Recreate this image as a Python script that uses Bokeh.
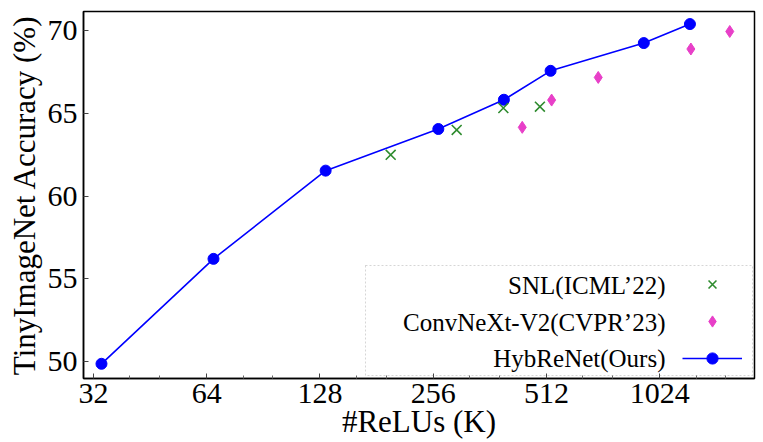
from bokeh.plotting import figure
from bokeh.models import FixedTicker, Range1d, Label, BoxAnnotation, Legend, LegendItem
from bokeh.core.properties import value
from bokeh.embed import file_html
from bokeh.resources import INLINE

# ---- data ----
hyb_x = [33.6, 66.7, 132.5, 264.1, 394.5, 525, 929, 1232]
hyb_y = [49.86, 56.21, 61.55, 64.07, 65.84, 67.59, 69.27, 70.42]
snl_x = [197.3, 295.5, 393.2, 491.8]
snl_y = [62.51, 64.01, 65.34, 65.42]
cnx_x = [441.4, 528.4, 702.8, 1239, 1572]
cnx_y = [64.17, 65.82, 67.19, 68.91, 69.97]

x_ticks = [32, 64, 128, 256, 512, 1024]
x_tick_labels = ["32", "64", "128", "256", "512", "1024"]
x_minor = [40, 48, 80, 96, 160, 192, 320, 384, 640, 768, 1280, 1536]
y_ticks = [50, 55, 60, 65, 70]
y_tick_labels = ["50", "55", "60", "65", "70"]
series_names = ["SNL(ICML’22)", "ConvNeXt-V2(CVPR’23)", "HybReNet(Ours)"]
x_title = "#ReLUs (K)"
y_title = "TinyImageNet Accuracy (%)"

FONT = "Liberation Serif, serif"
BLUE = "#0000ff"
GREEN = "#2e8b2e"
PINK = "#e83fc8"

p = figure(frame_width=671, frame_height=367, x_axis_type="log",
           x_range=Range1d(30.1, 1829), y_range=Range1d(48.97, 71.18),
           output_backend="svg", toolbar_location=None,
           min_border_left=83, min_border_right=9, min_border_top=11, min_border_bottom=64)

p.grid.visible = False
p.outline_line_color = "black"
p.outline_line_width = 1.5
p.background_fill_color = "white"
p.border_fill_color = "white"

for ax in (p.xaxis[0], p.yaxis[0]):
    ax.axis_line_color = "black"
    ax.axis_line_width = 1.5
    ax.major_tick_in = 5
    ax.major_tick_out = 0
    ax.minor_tick_in = 3
    ax.minor_tick_out = 0
    ax.major_tick_line_color = "#444444"
    ax.minor_tick_line_color = "#666666"
    ax.major_label_text_font = FONT
    ax.major_label_text_font_size = "30px"
    ax.major_label_text_color = "black"
    ax.axis_label_text_font = FONT
    ax.axis_label_text_font_size = "31px"
    ax.axis_label_text_font_style = "normal"
    ax.axis_label_text_color = "black"

p.xaxis.ticker = FixedTicker(ticks=x_ticks, minor_ticks=x_minor)
p.xaxis.major_label_overrides = dict(zip(x_ticks, x_tick_labels))
p.xaxis.axis_label = x_title
p.xaxis.major_label_standoff = 5
p.xaxis.axis_label_standoff = -2

p.yaxis.ticker = FixedTicker(ticks=y_ticks)
p.yaxis.major_label_overrides = dict(zip(y_ticks, y_tick_labels))
p.yaxis.minor_tick_line_color = None
p.yaxis.axis_label = y_title
p.yaxis.major_label_standoff = 6
p.yaxis.axis_label_standoff = 3

r_hyb_line = p.line(hyb_x, hyb_y, line_color=BLUE, line_width=1.6)
r_hyb = p.scatter(hyb_x, hyb_y, marker="circle", size=11, fill_color=BLUE, line_color=BLUE)
r_snl = p.scatter(snl_x, snl_y, marker="x", size=14, line_color=GREEN, line_width=1.6)
r_cnx = p.scatter(cnx_x, cnx_y, marker="diamond", size=12, fill_color=PINK, line_color=PINK)

box = BoxAnnotation(left=282, right=669, top=113, bottom=3,
                    left_units="screen", right_units="screen",
                    top_units="screen", bottom_units="screen",
                    fill_color=None, fill_alpha=0,
                    line_color="#777777", line_width=1, line_dash="2 2")
p.add_layout(box)

legend = Legend(items=[
    LegendItem(label=value(" "), renderers=[r_snl]),
    LegendItem(label=value(" "), renderers=[r_cnx]),
    LegendItem(label=value(" "), renderers=[r_hyb_line, r_hyb]),
], location=(599, 6), orientation="vertical",
    glyph_width=60, glyph_height=28, label_height=28, label_width=0,
    label_standoff=0, label_text_font_size="1px", spacing=9,
    padding=0, margin=0, border_line_color=None, background_fill_alpha=0)
p.add_layout(legend)

row_y = [93, 56, 20]
for name, yy in zip(series_names, row_y):
    p.add_layout(Label(x=582, y=yy, x_units="screen", y_units="screen", text=name,
                       text_align="right", text_baseline="middle",
                       text_font=FONT, text_font_size="25px", text_color="black"))

open("out.html", "w").write(file_html(p, INLINE))
